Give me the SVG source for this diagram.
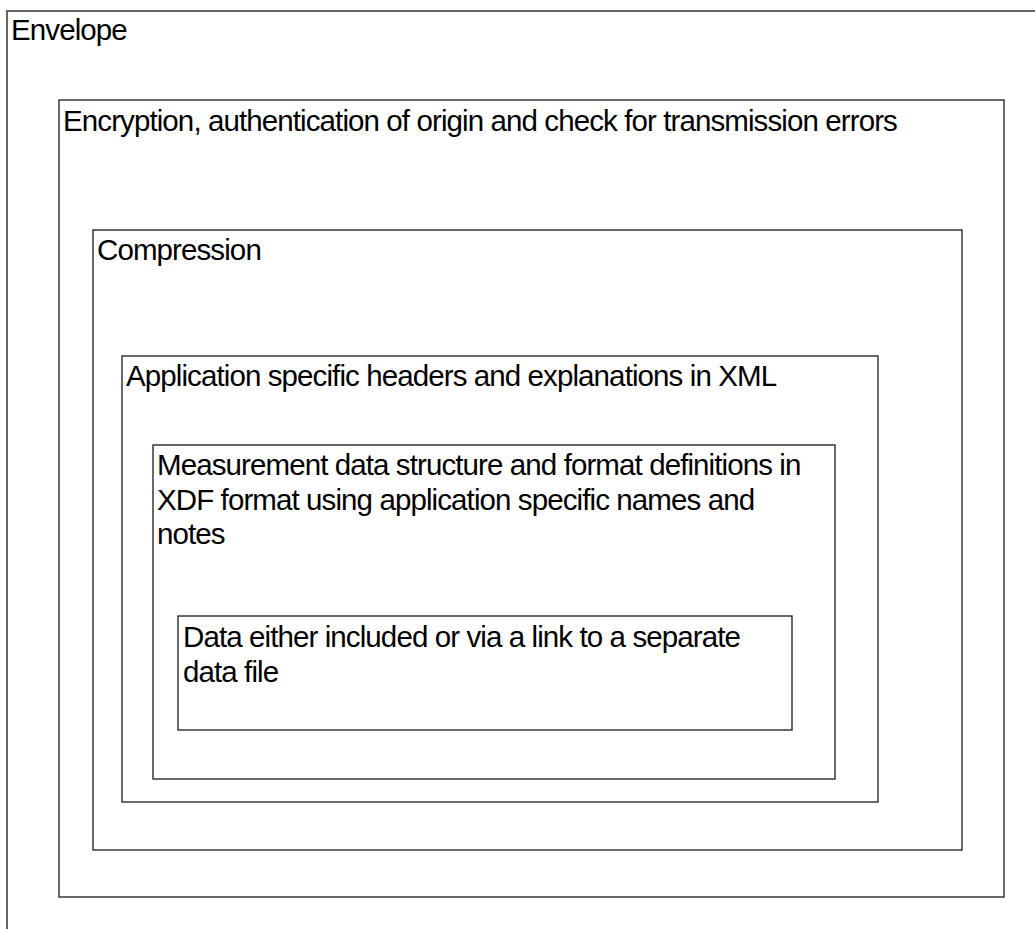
<svg xmlns="http://www.w3.org/2000/svg" width="1035" height="929" viewBox="0 0 1035 929">
<style>
.box{fill:none;stroke:#2a2a2a;stroke-width:1.4}
.outer{fill:none;stroke:#666;stroke-width:2}
.t{font-family:"Liberation Sans",Arial,sans-serif;font-size:29.5px;fill:#000;letter-spacing:-0.9px}
</style>
<rect width="1035" height="929" fill="#fff"/>
<g id="envelope">
<rect class="outer" x="7" y="11" width="1100" height="1000"/>
<text class="t" x="11" y="40">Envelope</text>
</g>
<g id="encryption">
<rect class="box" x="59" y="100" width="945" height="797"/>
<text class="t" x="63" y="131">Encryption, authentication of origin and check for transmission errors</text>
</g>
<g id="compression">
<rect class="box" x="93" y="230" width="869" height="620"/>
<text class="t" x="97" y="260">Compression</text>
</g>
<g id="application">
<rect class="box" x="122" y="356" width="756" height="446"/>
<text class="t" x="126" y="386">Application specific headers and explanations in XML</text>
</g>
<g id="measurement">
<rect class="box" x="153" y="445" width="682" height="334"/>
<text class="t" x="157" y="475">Measurement data structure and format definitions in</text>
<text class="t" x="157" y="510">XDF format using application specific names and</text>
<text class="t" x="157" y="544">notes</text>
</g>
<g id="data">
<rect class="box" x="178" y="616" width="614" height="114"/>
<text class="t" x="183" y="647">Data either included or via a link to a separate</text>
<text class="t" x="183" y="682">data file</text>
</g>
<g id="connectors"/>
</svg>
